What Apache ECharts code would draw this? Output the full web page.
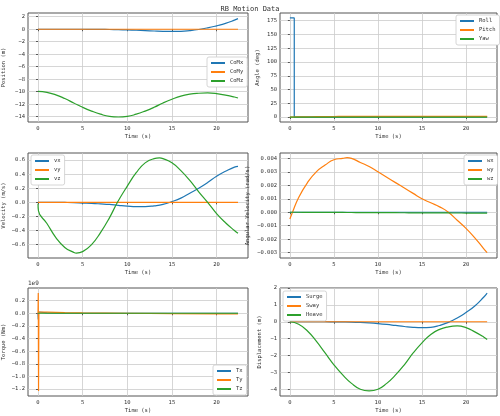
<!DOCTYPE html><html><head><meta charset="utf-8">
<script src="https://cdn.jsdelivr.net/npm/echarts@6/dist/echarts.min.js"></script>
<style>html,body{margin:0;padding:0;background:#fff}#c{width:500px;height:416px}</style></head><body><div id="c"></div>
<script>
const T = [0,1,2,3,4,5,6,7,8,9,10,11,12,13,14,15,16,17,18,19,20,21,22,22.4];
const comX = [0,0,0,0,0,-0.005,-0.01,-0.02,-0.04,-0.07,-0.11,-0.16,-0.22,-0.28,-0.33,-0.35,-0.33,-0.22,-0.04,0.22,0.55,0.93,1.45,1.7];
const comY = T.map(()=>0);
const comZ = [-9.95,-10.1,-10.5,-11.1,-11.8,-12.5,-13.1,-13.6,-13.95,-14.05,-13.95,-13.6,-13.1,-12.5,-11.8,-11.2,-10.7,-10.4,-10.25,-10.2,-10.3,-10.55,-10.85,-11.0];
const heave = comZ.map(v=>+(v+9.95).toFixed(2));
const surge = comX, sway = comY;
const rollT = [0,0.5,0.5,22.4], roll = [180,180,0,0.3];
const pitch = [0,0.2,0.4,0.6,0.8,1,1.1,1.2,1.3,1.3,1.3,1.3,1.3,1.3,1.3,1.3,1.3,1.3,1.3,1.3,1.3,1.3,1.3,1.3];
const yaw = T.map(()=>0);
const vx = [0,0,0,-0.002,-0.005,-0.01,-0.015,-0.022,-0.03,-0.042,-0.053,-0.06,-0.06,-0.05,-0.03,0.01,0.06,0.13,0.2,0.28,0.37,0.44,0.5,0.51];
const vy = T.map(()=>0);
const vzT = [0,0.05,1,2,3,4,4.3,5,6,7,8,8.9,10,11,12,13,13.6,14,15,16,17,18,19,20,21,22,22.4];
const vz = [-0.02,-0.12,-0.3,-0.5,-0.64,-0.71,-0.72,-0.7,-0.6,-0.43,-0.22,0,0.23,0.42,0.56,0.62,0.63,0.62,0.56,0.45,0.31,0.15,0,-0.16,-0.29,-0.4,-0.44];
const wyT = [0,0.3,1,2,3,4,5,6,6.5,7,8,9,10,11,12,13,14,15,16,17,18,19,20,21,22,22.4];
const wy = [-0.0005,0,0.0011,0.0022,0.003,0.0035,0.0039,0.004,0.00405,0.004,0.0037,0.0034,0.003,0.0026,0.0022,0.0018,0.0014,0.001,0.0007,0.0004,0,-0.0006,-0.0012,-0.0019,-0.0027,-0.003];
const wx = T.map(()=>0);
const wz = T.map(t=>-0.000003*t);
const tqT = [0,0.03,0.06,0.1,0.15,1,3,5,10,15,20,22.4];
const tqX = [0,-0.1,0.02,0.01,0.01,0.005,0,0,0,0,0,0];
const tqY = [0,0.32,-1.23,0.02,0.02,0.018,0.01,0.005,0,-0.005,-0.01,-0.012];
const tqZ = [0,0,0,0,0,0,0,0,0,0,0,0];
const xTicks = [0,5,10,15,20];
const C = ['#1f77b4','#ff7f0e','#2ca02c'];
const F = 'DejaVu Sans Mono';
const pair=(t,v)=>t.map((x,i)=>[x,v[i]]);
const grids=[[28,248,13,122],[280,497,13,122],[28,248,153,258],[280,497,153,258],[28,248,288,396],[280,497,288,396]];
const yCfg=[
 {name:'Position (m)',min:-14.85,max:2.6,ticks:[2,0,-2,-4,-6,-8,-10,-12,-14],g:21},
 {name:'Angle (deg)',min:-9,max:189,ticks:[0,25,50,75,100,125,150,175],g:19},
 {name:'Velocity (m/s)',min:-0.79,max:0.70,ticks:[-0.6,-0.4,-0.2,0,0.2,0.4,0.6],d:1,g:21},
 {name:'Angular Velocity (rad/s)',min:-0.0034,max:0.0044,ticks:[-0.003,-0.002,-0.001,0,0.001,0.002,0.003,0.004],d:3,g:29},
 {name:'Torque (Nm)',min:-1.31,max:0.4,ticks:[-1.2,-1,-0.8,-0.6,-0.4,-0.2,0,0.2],d:1,g:21},
 {name:'Displacement (m)',min:-4.4,max:2.0,ticks:[-4,-3,-2,-1,0,1,2],g:17}
];
const seriesDefs=[
 [['CoMx',pair(T,comX)],['CoMy',pair(T,comY)],['CoMz',pair(T,comZ)]],
 [['Roll',pair(rollT,roll)],['Pitch',pair(T,pitch)],['Yaw',pair(T,yaw)]],
 [['vx',pair(T,vx)],['vy',pair(T,vy)],['vz',pair(vzT,vz)]],
 [['wx',pair(T,wx)],['wy',pair(wyT,wy)],['wz',pair(T,wz)]],
 [['Tx',pair(tqT,tqX)],['Ty',pair(tqT,tqY)],['Tz',pair(tqT,tqZ)]],
 [['Surge',pair(T,surge)],['Sway',pair(T,sway)],['Heave',pair(T,heave)]]
];
const legPos=[{left:207,top:57},{left:456,top:15},{left:31,top:155},{left:464,top:155},{left:213,top:365},{left:283,top:291}];
const lab={fontFamily:F,fontSize:5.5,color:'#333'};
const opt={animation:false,title:{text:'RB Motion Data',left:'center',top:1,textStyle:{fontFamily:F,fontSize:7,fontWeight:'normal',color:'#333'}},
 grid:[],xAxis:[],yAxis:[],series:[],legend:[],graphic:[{type:'text',left:28,top:280,style:{text:'1e9',font:'6px '+F,fill:'#333'}}]};
grids.forEach((g,i)=>{
 opt.grid.push({left:g[0],top:g[2],width:g[1]-g[0],height:g[3]-g[2],show:true,borderColor:'#555',borderWidth:1,backgroundColor:'#fff'});
 opt.xAxis.push({type:'value',gridIndex:i,min:-1.12,max:23.52,name:'Time (s)',nameLocation:'middle',nameGap:12,nameTextStyle:lab,
  axisLine:{show:false},axisTick:{show:true,length:2,customValues:xTicks,lineStyle:{color:'#555'}},
  axisLabel:Object.assign({customValues:xTicks,margin:4},lab),splitLine:{show:true,lineStyle:{color:'#ccc',width:0.8}}});
 const y=yCfg[i];
 opt.yAxis.push({type:'value',gridIndex:i,min:y.min,max:y.max,name:y.name,nameLocation:'middle',nameGap:y.g,nameTextStyle:lab,
  axisLine:{show:false},axisTick:{show:true,length:2,customValues:y.ticks,lineStyle:{color:'#555'}},
  axisLabel:Object.assign({customValues:y.ticks,margin:3,formatter:v=>(y.d!==undefined?v.toFixed(y.d):String(v)).replace('-','−')},lab),
  splitLine:{show:true,lineStyle:{color:'#ccc',width:0.8}}});
 const names=[];
 seriesDefs[i].forEach((s,k)=>{names.push(s[0]);
  opt.series.push({name:s[0],type:'line',xAxisIndex:i,yAxisIndex:i,data:s[1],showSymbol:false,smooth:['Roll','Tx','Ty','Tz'].includes(s[0])?false:0.5,
   lineStyle:{color:C[k],width:1.2},itemStyle:{color:C[k]}});});
 opt.legend.push(Object.assign({data:names,orient:'vertical',itemWidth:14,itemHeight:2,itemGap:3,icon:'rect',backgroundColor:'#fff',borderColor:'#ccc',borderWidth:0.8,borderRadius:2,padding:[3,4],textStyle:{fontFamily:F,fontSize:5.5,color:'#333'}},legPos[i]));
});
echarts.init(document.getElementById('c'),null,{renderer:'canvas'}).setOption(opt);
</script></body></html>
